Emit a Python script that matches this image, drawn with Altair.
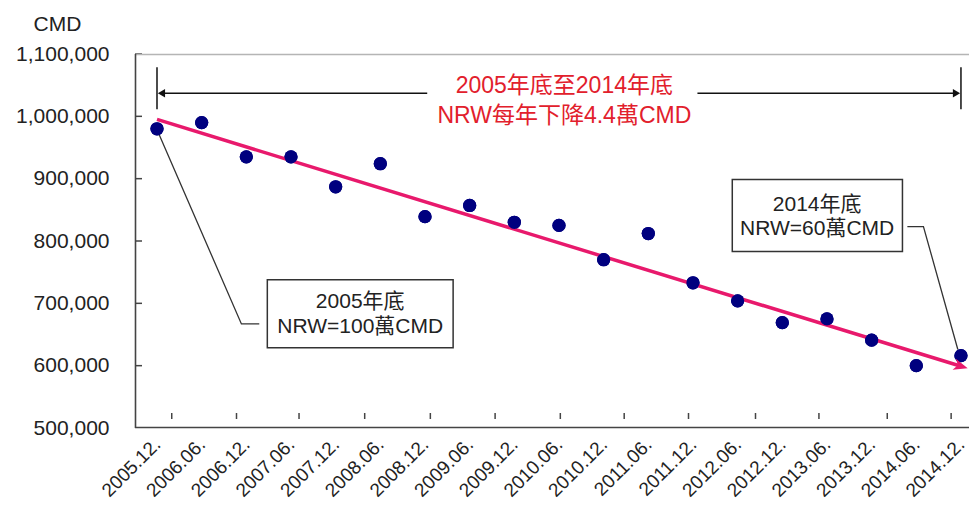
import json
import altair as alt
import pandas as pd

# ---------------- data ----------------
periods = ["2005.12.", "2006.06.", "2006.12.", "2007.06.", "2007.12.", "2008.06.",
           "2008.12.", "2009.06.", "2009.12.", "2010.06.", "2010.12.", "2011.06.",
           "2011.12.", "2012.06.", "2012.12.", "2013.06.", "2013.12.", "2014.06.",
           "2014.12."]
nrw = [980000, 990000, 935000, 935000, 887000, 924000, 839000, 857000, 830000,
       825000, 770000, 812000, 733000, 704000, 669000, 675000, 641000, 600000,
       616000]
idx = list(range(len(periods)))

trend_idx = [0, 18]
trend_val = [995000, 599000]

y_tick_vals = [500000, 600000, 700000, 800000, 900000, 1000000, 1100000]
minor_tick_idx = [0.33, 1.78, 3.18, 4.65, 6.12, 7.57, 9.03, 10.46, 11.90, 13.40,
                  14.82, 16.35, 17.78]

title_lines = ["2005年底至2014年底", "NRW每年下降4.4萬CMD"]
title_idx = [9.12, 9.12]
title_val = [1048000, 1001000]

span_bar_idx = [0, 18]
span_bar_top, span_bar_bot = 1078800, 1011300
span_val = 1037000
span_seg_idx = [[0.1, 6.05], [12.1, 17.9]]

box1_lines = ["2005年底", "NRW=100萬CMD"]
box1_rect = dict(x=2.47, x2=6.63, y=737900, y2=628600)
box1_text_idx = 4.55
box1_text_val = [702000, 662000]
leader1_idx = [0.04, 1.89, 2.29]
leader1_val = [972000, 667000, 667000]

box2_lines = ["2014年底", "NRW=60萬CMD"]
box2_rect = dict(x=12.88, x2=16.69, y=898700, y2=783000)
box2_text_idx = 14.78
box2_text_val = [858000, 819000]
leader2_idx = [16.80, 17.16, 17.93]
leader2_val = [823200, 823200, 626000]

# ---------------- styling ----------------
FONT = "'Liberation Sans', 'Noto Sans CJK TC', sans-serif"
W, H = 834, 374
X_DOMAIN = [-0.4925, 18.18]
Y_DOMAIN = [500000, 1100000]
xs = alt.Scale(domain=X_DOMAIN, nice=False, zero=False)
ys = alt.Scale(domain=Y_DOMAIN, nice=False, zero=False)
NAVY = "#00007f"
PINK = "#e8196c"
RED = "#e2202c"
INK = "#222222"
AXIS = "#444444"


def X(field="x"):
    return alt.X(f"{field}:Q", scale=xs)


def Y(field="y"):
    return alt.Y(f"{field}:Q", scale=ys)


x_label_expr = json.dumps(periods) + "[datum.value]"

pts_df = pd.DataFrame({"x": idx, "y": nrw, "period": periods})

points = alt.Chart(pts_df).mark_circle(size=175, color=NAVY, opacity=1).encode(
    x=alt.X("x:Q", scale=xs, axis=alt.Axis(values=idx, labelExpr=x_label_expr, title=None)),
    y=alt.Y("y:Q", scale=ys, axis=alt.Axis(
        values=y_tick_vals, labelExpr="format(datum.value, ',')", title="CMD")),
)

# frame lines (pixel-anchored to the plot edges)
frame_left = alt.Chart(pd.DataFrame({"k": [0]})).mark_rule(
    color=AXIS, strokeWidth=1.6, clip=False).encode(
    x=alt.value(0.5), y=alt.value(0), y2=alt.value(H))
frame_bottom = alt.Chart(pd.DataFrame({"k": [0]})).mark_rule(
    color=AXIS, strokeWidth=1.6, clip=False).encode(
    y=alt.value(H - 0.5), x=alt.value(0), x2=alt.value(W))
frame_top = alt.Chart(pd.DataFrame({"k": [0]})).mark_rule(
    color="#b5b5b5", strokeWidth=1.5, clip=False).encode(
    y=alt.value(0.5), x=alt.value(0), x2=alt.value(W))

y_ticks = alt.Chart(pd.DataFrame({"y": y_tick_vals[1:]})).mark_rule(
    color=AXIS, strokeWidth=1.5).encode(y=Y(), x=alt.value(0), x2=alt.value(7))

x_minor = alt.Chart(pd.DataFrame({"x": minor_tick_idx})).mark_rule(
    color=AXIS, strokeWidth=1.5).encode(x=X(), y=alt.value(H - 15), y2=alt.value(H - 9))

trend_df = pd.DataFrame({"x": trend_idx, "y": trend_val})
trend = alt.Chart(trend_df).mark_line(color=PINK, strokeWidth=3.5).encode(x=X(), y=Y())
trend_head = alt.Chart(trend_df.iloc[[-1]]).mark_point(
    shape="M1,0 L-1,-0.8 L-0.45,0 L-1,0.8 Z", size=200, filled=True, color=PINK,
    opacity=1, angle=17).encode(x=X(), y=Y())

# span arrow
bars = alt.Chart(pd.DataFrame({"x": span_bar_idx, "y": [span_bar_top] * 2,
                               "y2": [span_bar_bot] * 2})).mark_rule(
    color="#111111", strokeWidth=1.5).encode(x=X(), y=Y(), y2="y2:Q")
seg_rows = []
for a, b in span_seg_idx:
    seg_rows.append({"x": a, "x2": b, "y": span_val})
segs = alt.Chart(pd.DataFrame(seg_rows)).mark_rule(color="#111111", strokeWidth=1.5).encode(
    x=X(), x2="x2:Q", y=Y())
heads = alt.Chart(pd.DataFrame({"x": [span_seg_idx[0][0], span_seg_idx[1][1]],
                                "y": [span_val] * 2,
                                "shape": ["triangle-left", "triangle-right"]})).mark_point(
    filled=True, color="#111111", opacity=1, size=70).encode(
    x=X(), y=Y(), shape=alt.Shape("shape:N", scale=None, legend=None))

title_txt = alt.Chart(pd.DataFrame({"x": title_idx, "y": title_val, "t": title_lines})).mark_text(
    font=FONT, fontSize=23, color=RED, align="center", baseline="middle").encode(
    x=X(), y=Y(), text="t:N")


def box(rect, lines, tx, tvals, lidx, lval):
    r = alt.Chart(pd.DataFrame([rect])).mark_rect(
        fill="white", stroke="#333333", strokeWidth=1.5).encode(
        x=X(), x2="x2:Q", y=Y(), y2="y2:Q")
    t = alt.Chart(pd.DataFrame({"x": [tx] * len(lines), "y": tvals, "t": lines})).mark_text(
        font=FONT, fontSize=21, color=INK, align="center", baseline="middle").encode(
        x=X(), y=Y(), text="t:N")
    ld = pd.DataFrame({"x": lidx, "y": lval, "o": list(range(len(lidx)))})
    l = alt.Chart(ld).mark_line(color="#333333", strokeWidth=1.3).encode(
        x=X(), y=Y(), order="o:Q")
    return [l, r, t]


layers = [points, y_ticks, x_minor, bars, segs, heads, title_txt]
layers += box(box1_rect, box1_lines, box1_text_idx, box1_text_val, leader1_idx, leader1_val)
layers += box(box2_rect, box2_lines, box2_text_idx, box2_text_val, leader2_idx, leader2_val)
layers += [trend, points, trend_head, frame_top, frame_left, frame_bottom]

chart = alt.layer(*layers).properties(
    width=W, height=H,
    autosize=alt.AutoSizeParams(type="none"),
    padding={"left": 127, "top": 46, "right": 0, "bottom": 80},
    background="white",
).configure_view(stroke=None).configure_axis(
    grid=False, ticks=False, domain=False, zindex=0,
    labelColor=INK, labelFont=FONT, titleFont=FONT, titleColor=INK,
).configure_axisX(
    labelAngle=-45, labelAlign="right", labelBaseline="middle", labelFontSize=19,
    labelPadding=13, labelOverlap=False, labelFlush=False,
).configure_axisY(
    labelFontSize=21, labelPadding=26, labelOverlap=False, labelFlush=False,
    titleAngle=0, titleX=-78, titleY=-30, titleAlign="center",
    titleBaseline="middle", titleFontSize=21, titleFontWeight="normal",
)

chart.save("out.html", embed_options={"renderer": "svg", "actions": False})
